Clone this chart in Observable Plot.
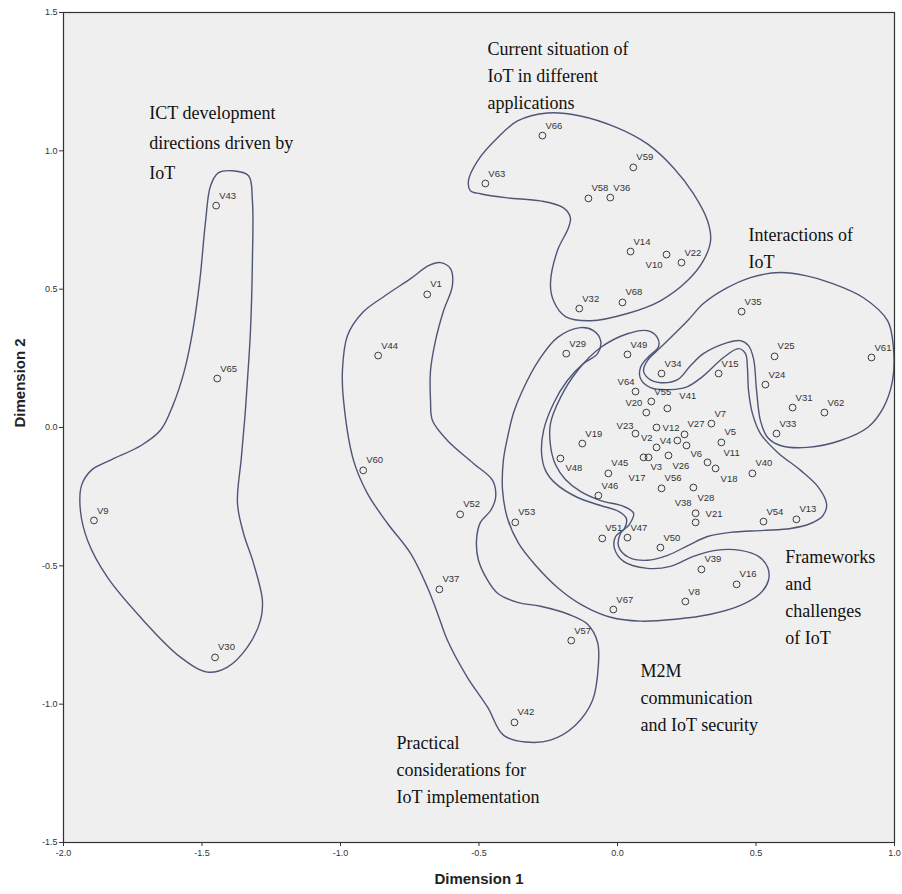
<!DOCTYPE html>
<html><head><meta charset="utf-8">
<script src="https://cdn.jsdelivr.net/npm/d3@7"></script>
<script src="https://cdn.jsdelivr.net/npm/@observablehq/plot@0.6"></script>
<style>html,body{margin:0;padding:0;background:#fff}#chart svg{display:block}</style>
</head><body><div id="chart"></div>
<script>
// ---- data ----
const names = ["V1","V2","V3","V4","V5","V6","V7","V8","V9","V10","V11","V12","V13","V14","V15","V16","V17","V18","V19","V20","V21","V22","V23","V24","V25","V26","V27","V28","V29","V30","V31","V32","V33","V34","V35","V36","V37","V38","V39","V40","V41","V42","V43","V44","V45","V46","V47","V48","V49","V50","V51","V52","V53","V54","V55","V56","V57","V58","V59","V60","V61","V62","V63","V64","V65","V66","V67","V68"];
const dim1 = [-0.687,0.141,0.112,0.216,0.375,0.249,0.339,0.245,-1.890,0.177,0.325,0.141,0.646,0.047,0.365,0.430,0.094,0.354,-0.127,0.104,0.282,0.231,0.065,0.534,0.567,0.184,0.242,0.274,-0.185,-1.453,0.632,-0.138,0.574,0.159,0.448,-0.026,-0.643,0.282,0.303,0.487,0.180,-0.372,-1.449,-0.864,-0.033,-0.069,0.036,-0.206,0.036,0.155,-0.055,-0.568,-0.369,0.527,0.122,0.159,-0.167,-0.105,0.057,-0.918,0.917,0.747,-0.477,0.065,-1.445,-0.271,-0.015,0.018];
const dim2 = [0.481,-0.072,-0.108,-0.047,-0.054,-0.065,0.014,-0.629,-0.336,0.625,-0.126,0.000,-0.332,0.636,0.195,-0.567,-0.108,-0.148,-0.058,0.054,-0.343,0.596,-0.022,0.155,0.257,-0.101,-0.025,-0.217,0.267,-0.831,0.072,0.430,-0.022,0.195,0.419,0.831,-0.585,-0.310,-0.513,-0.166,0.069,-1.066,0.802,0.260,-0.166,-0.246,-0.398,-0.112,0.264,-0.434,-0.401,-0.314,-0.343,-0.340,0.094,-0.220,-0.770,0.828,0.940,-0.155,0.253,0.054,0.882,0.130,0.177,1.055,-0.658,0.452];

const xTicks = [-2.0,-1.5,-1.0,-0.5,0.0,0.5,1.0];
const yTicks = [-1.5,-1.0,-0.5,0.0,0.5,1.0,1.5];

// cluster outlines (Dimension 1, Dimension 2)
const ictOutline = [[-1.440,0.921],[-1.390,0.928],[-1.332,0.910],[-1.318,0.819],[-1.318,0.603],[-1.325,0.350],[-1.336,0.170],[-1.345,0.040],[-1.358,-0.110],[-1.372,-0.274],[-1.350,-0.383],[-1.314,-0.491],[-1.282,-0.625],[-1.289,-0.697],[-1.336,-0.794],[-1.408,-0.866],[-1.480,-0.884],[-1.578,-0.830],[-1.722,-0.686],[-1.841,-0.542],[-1.913,-0.408],[-1.939,-0.300],[-1.935,-0.210],[-1.900,-0.155],[-1.830,-0.118],[-1.720,-0.065],[-1.650,-0.010],[-1.605,0.080],[-1.565,0.200],[-1.535,0.340],[-1.508,0.531],[-1.487,0.747],[-1.469,0.874]];
const practicalOutline = [[-0.639,0.596],[-0.603,0.574],[-0.596,0.513],[-0.628,0.422],[-0.657,0.314],[-0.675,0.206],[-0.675,0.097],[-0.668,0.025],[-0.614,-0.047],[-0.520,-0.130],[-0.451,-0.191],[-0.440,-0.253],[-0.458,-0.300],[-0.495,-0.343],[-0.509,-0.408],[-0.502,-0.480],[-0.469,-0.552],[-0.433,-0.599],[-0.361,-0.632],[-0.278,-0.646],[-0.177,-0.675],[-0.108,-0.711],[-0.072,-0.776],[-0.069,-0.859],[-0.090,-0.986],[-0.152,-1.076],[-0.242,-1.130],[-0.332,-1.137],[-0.412,-1.112],[-0.469,-1.011],[-0.542,-0.903],[-0.614,-0.769],[-0.650,-0.671],[-0.686,-0.578],[-0.747,-0.455],[-0.830,-0.347],[-0.903,-0.238],[-0.953,-0.119],[-0.989,0.097],[-0.993,0.206],[-0.975,0.332],[-0.921,0.415],[-0.838,0.477],[-0.747,0.538],[-0.682,0.585]];
const m2mOutline = [[-0.217,0.325],[-0.134,0.361],[-0.087,0.350],[-0.061,0.314],[-0.072,0.267],[-0.123,0.231],[-0.181,0.170],[-0.231,0.087],[-0.267,-0.011],[-0.274,-0.094],[-0.260,-0.155],[-0.224,-0.202],[-0.144,-0.253],[-0.061,-0.282],[0.004,-0.303],[0.032,-0.329],[0.025,-0.365],[-0.007,-0.394],[-0.011,-0.437],[0.022,-0.484],[0.108,-0.509],[0.191,-0.502],[0.274,-0.466],[0.354,-0.444],[0.444,-0.444],[0.509,-0.466],[0.542,-0.505],[0.545,-0.552],[0.516,-0.599],[0.444,-0.643],[0.336,-0.675],[0.209,-0.693],[0.083,-0.700],[-0.025,-0.686],[-0.126,-0.643],[-0.217,-0.578],[-0.296,-0.498],[-0.357,-0.419],[-0.397,-0.329],[-0.415,-0.227],[-0.412,-0.119],[-0.397,-0.036],[-0.375,0.054],[-0.343,0.134],[-0.285,0.242]];
const frameworksOutline = [[0.036,0.339],[0.108,0.350],[0.144,0.325],[0.148,0.292],[0.112,0.256],[0.083,0.217],[0.083,0.177],[0.119,0.144],[0.191,0.137],[0.253,0.148],[0.307,0.184],[0.383,0.253],[0.437,0.285],[0.462,0.267],[0.469,0.217],[0.473,0.134],[0.487,0.051],[0.516,-0.022],[0.578,-0.090],[0.661,-0.155],[0.726,-0.217],[0.755,-0.278],[0.740,-0.321],[0.697,-0.347],[0.625,-0.365],[0.527,-0.372],[0.408,-0.379],[0.325,-0.394],[0.256,-0.426],[0.181,-0.462],[0.108,-0.480],[0.040,-0.469],[0.004,-0.430],[0.011,-0.383],[0.043,-0.350],[0.058,-0.310],[0.022,-0.285],[-0.061,-0.264],[-0.134,-0.231],[-0.188,-0.188],[-0.224,-0.134],[-0.242,-0.065],[-0.242,0.014],[-0.206,0.108],[-0.144,0.206],[-0.061,0.289]];
const interactionsOutline = [[0.253,0.386],[0.310,0.448],[0.390,0.502],[0.480,0.542],[0.588,0.560],[0.679,0.549],[0.769,0.523],[0.888,0.469],[0.975,0.386],[0.996,0.289],[0.993,0.170],[0.960,0.072],[0.903,0.000],[0.805,-0.047],[0.686,-0.072],[0.588,-0.065],[0.542,-0.036],[0.516,0.025],[0.502,0.134],[0.491,0.249],[0.473,0.296],[0.444,0.314],[0.397,0.307],[0.310,0.267],[0.264,0.224],[0.217,0.173],[0.155,0.162],[0.112,0.177],[0.094,0.206],[0.108,0.242],[0.155,0.289]];
const currentOutline = [[-0.538,0.892],[-0.505,0.964],[-0.433,1.047],[-0.361,1.108],[-0.253,1.137],[-0.134,1.126],[0.000,1.083],[0.108,1.025],[0.202,0.939],[0.274,0.845],[0.325,0.747],[0.336,0.675],[0.310,0.603],[0.253,0.531],[0.155,0.458],[0.036,0.412],[-0.097,0.386],[-0.188,0.401],[-0.231,0.458],[-0.242,0.520],[-0.217,0.639],[-0.177,0.722],[-0.170,0.758],[-0.195,0.794],[-0.278,0.819],[-0.397,0.830],[-0.495,0.845],[-0.531,0.856]];

// cluster annotations
const clusterText = ["ICT development\ndirections driven by\nIoT","Current situation of\nIoT in different\napplications","Interactions of\nIoT","Frameworks\nand\nchallenges\nof IoT","M2M\ncommunication\nand IoT security","Practical\nconsiderations for\nIoT implementation"];
const clusterX = [-1.690,-0.469,0.473,0.606,0.083,-0.798];
const clusterY = [1.191,1.415,0.744,-0.422,-0.834,-1.094];

// ---- build ----
const points = names.map((n,i)=>({name:n, d1:dim1[i], d2:dim2[i]}));
const outlines = [ictOutline, practicalOutline, m2mOutline, frameworksOutline, interactionsOutline, currentOutline]
  .flatMap((o,k)=>o.map(p=>({k, d1:p[0], d2:p[1]})));

// label placement (text anchor, dx, dy in px); default upper-right
const place = {
  V20:["end",-4,-10], V64:["end",-1,-10], V23:["end",-2,-8], V2:["end",-4,-9],
  V12:["start",6,0], V4:["end",-6,0], V6:["start",4,8], V11:["start",16,-9],
  V18:["start",5,11], V26:["start",4,11], V3:["start",2,10], V17:["start",-15,21],
  V28:["start",4,10], V38:["end",-4,-10], V21:["start",10,-8], V48:["start",5,9],
  V10:["end",-4,10], V41:["start",12,-12]
};
const groups = d3.group(points, d => (place[d.name] || ["start",3,-10]).join("|"));
const labelMarks = [...groups].map(([key, arr]) => {
  const [anchor, dx, dy] = key.split("|");
  return Plot.text(arr, {x:"d1", y:"d2", text:"name", textAnchor:anchor, dx:+dx, dy:+dy,
    fontSize:9.5, fill:"#333", fontFamily:"Liberation Sans, Arial, sans-serif"});
});

const serif = "Liberation Serif, Times New Roman, serif";
const idx = d3.range(clusterText.length);

const chart = Plot.plot({
  width: 902, height: 894,
  marginLeft: 63, marginRight: 8, marginTop: 12, marginBottom: 52,
  style: {fontFamily:"Liberation Sans, Arial, sans-serif", background:"none", color:"#333"},
  x: {domain:[-2,1]},
  y: {domain:[-1.5,1.5]},
  marks: [
    Plot.frame({fill:"#efefef", stroke:null}),
    Plot.axisX({ticks:xTicks, tickFormat:d=>d.toFixed(1), tickSize:4, tickPadding:3, fontSize:9, label:null, stroke:"#333"}),
    Plot.axisY({ticks:yTicks, tickFormat:d=>d.toFixed(1), tickSize:4, tickPadding:2, fontSize:9, label:null, stroke:"#333"}),
    Plot.line(outlines, {x:"d1", y:"d2", z:"k", curve:"catmull-rom-closed", stroke:"#4f5577", strokeWidth:1.4}),
    Plot.dot(points, {x:"d1", y:"d2", r:3.4, stroke:"#3c3c3c", strokeWidth:1, fill:"none"}),
    ...labelMarks,
    Plot.text([0], {x:i=>clusterX[i], y:i=>clusterY[i], text:i=>clusterText[i], textAnchor:"start", lineAnchor:"top", lineHeight:1.67, fontSize:18, fontFamily:serif, fill:"#111"}),
    Plot.text(idx.slice(1), {x:i=>clusterX[i], y:i=>clusterY[i], text:i=>clusterText[i], textAnchor:"start", lineAnchor:"top", lineHeight:1.5, fontSize:18, fontFamily:serif, fill:"#111"}),
    Plot.frame({stroke:"#333", strokeWidth:1.2}),
    Plot.text(["Dimension 1"], {frameAnchor:"bottom", dy:41, fontSize:15, fill:"#222", fontWeight:"bold"}),
    Plot.text(["Dimension 2"], {frameAnchor:"left", dx:-43, rotate:-90, fontSize:15, fill:"#222", fontWeight:"bold"})
  ]
});
document.getElementById("chart").appendChild(chart);
</script>
</body></html>
